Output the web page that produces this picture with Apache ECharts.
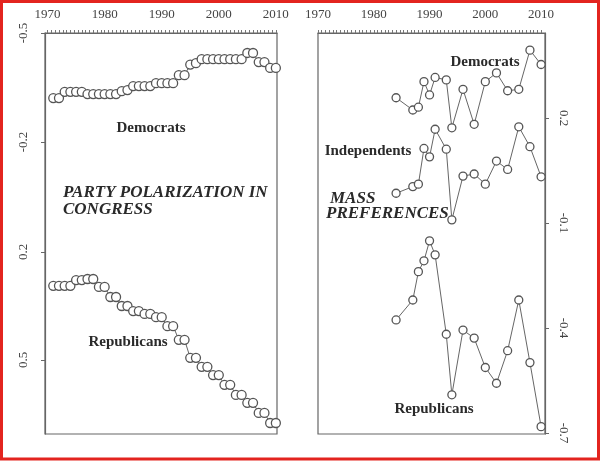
<!DOCTYPE html>
<html>
<head>
<meta charset="utf-8">
<script src="https://cdn.jsdelivr.net/npm/echarts@6/dist/echarts.min.js"></script>
<style>
html,body{margin:0;padding:0;background:#fff;}
#main{width:600px;height:461px;}
</style>
</head>
<body>
<div id="main"></div>
<script>
// congress: one value per year, 1971-2010 (each congress shows twice)
var congressYears = [];
for (var y = 1971; y <= 2010; y++) congressYears.push(y);

var congressDem = [-0.321,-0.321,-0.338,-0.338,-0.338,-0.338,-0.332,-0.332,-0.332,-0.332,
                   -0.332,-0.332,-0.340,-0.343,-0.354,-0.354,-0.354,-0.354,-0.362,-0.362,
                   -0.362,-0.362,-0.384,-0.384,-0.413,-0.417,-0.428,-0.428,-0.428,-0.428,
                   -0.428,-0.428,-0.428,-0.428,-0.445,-0.445,-0.420,-0.420,-0.404,-0.404];
var congressRep = [0.294,0.294,0.294,0.294,0.278,0.278,0.275,0.275,0.297,0.297,
                   0.325,0.325,0.350,0.350,0.364,0.364,0.372,0.372,0.381,0.381,
                   0.406,0.406,0.444,0.444,0.494,0.494,0.519,0.519,0.542,0.542,
                   0.569,0.569,0.597,0.597,0.619,0.619,0.647,0.647,0.675,0.675];

// mass preferences (survey years)
var massYears = [1984,1987,1988,1989,1990,1991,1993,1994,1996,1998,2000,2002,2004,2006,2008,2010];
var massDem = [0.258,0.223,0.231,0.304,0.266,0.316,0.309,0.172,0.282,0.182,0.304,0.329,0.278,0.282,0.394,0.353];
var massInd = [-0.015,0.004,0.011,0.113,0.089,0.168,0.111,-0.091,0.034,0.040,0.011,0.077,0.053,0.175,0.118,0.032];
var massRep = [-0.377,-0.320,-0.239,-0.208,-0.151,-0.191,-0.418,-0.591,-0.406,-0.429,-0.513,-0.558,-0.465,-0.320,-0.499,-0.682];

// tick labels
var yearTicks = [1970,1980,1990,2000,2010];
var congressDemTicks = [-0.5,-0.2];
var congressRepTicks = [0.2,0.5];
var massTicks = [0.2,-0.1,-0.4,-0.7];

function pairs(xs, ys){
  var out = [];
  for (var i = 0; i < xs.length; i++) out.push([xs[i], ys[i]]);
  return out;
}

// little rug of ticks along the top line
var rug = [];
for (var t = 1970; t <= 2010.01; t += 2/3) rug.push(Math.round(t*1000)/1000);

var serif = 'Liberation Serif';
var labelStyle = {fontFamily: serif, fontSize: 13, color: '#444'};

function topAxis(idx, min, max){
  return {
    gridIndex: idx, type: 'value', position: 'top', min: min, max: max,
    axisLine: {show: true, onZero: false, lineStyle: {color: '#666', width: 1.2}},
    axisTick: {show: true, customValues: rug, length: 3, lineStyle: {color: '#777', width: 1}},
    axisLabel: Object.assign({customValues: yearTicks, margin: 12,
      formatter: function(v){ return String(Math.round(v)); }}, labelStyle),
    splitLine: {show: false}
  };
}

function yAx(idx, pos, min, max, inv, ticks, rot, margin, showLine){
  return {
    gridIndex: idx, type: 'value', position: pos, min: min, max: max, inverse: inv,
    axisLine: {show: showLine, onZero: false, lineStyle: {color: '#666', width: 1.2}},
    axisTick: {show: true, customValues: ticks, length: 4, lineStyle: {color: '#666'}},
    axisLabel: Object.assign({customValues: ticks, rotate: rot, margin: margin,
      formatter: function(v){ return String(Math.round(v*10)/10); }}, labelStyle),
    splitLine: {show: false}
  };
}

function ser(name, xi, yi, data, size){
  return {
    name: name, type: 'line', xAxisIndex: xi, yAxisIndex: yi,
    data: data, symbol: 'circle', symbolSize: size, showSymbol: true,
    lineStyle: {color: '#666', width: 1},
    itemStyle: {color: '#fff', borderColor: '#555', borderWidth: 1.3},
    animation: false
  };
}

function txt(s, x, y, size, bold, italic, align){
  return {
    type: 'text', x: x, y: y, z: 10,
    style: {text: s, fill: '#2a2a2a', font: (italic ? 'italic ' : '') + (bold ? 'bold ' : '') + size + 'px "Liberation Serif"',
      textAlign: align || 'center', textVerticalAlign: 'middle'}
  };
}

var myChart = echarts.init(document.getElementById('main'));
var option = {
  backgroundColor: '#fff',
  grid: [
    {left: 45, top: 33, width: 232, height: 401, show: true, borderColor: '#666', borderWidth: 1.2},
    {left: 318, top: 33, width: 227, height: 401, show: true, borderColor: '#666', borderWidth: 1.2}
  ],
  xAxis: [topAxis(0, 1969.55, 2010.2), topAxis(1, 1970, 2010.7)],
  yAxis: [
    yAx(0, 'left', -0.5, 0.6037, true, congressDemTicks, 90, 15, true),
    yAx(0, 'left', -0.4083, 0.7056, true, congressRepTicks, 90, 15, false),
    yAx(1, 'right', -0.703, 0.443, false, massTicks, -90, 12, true)
  ],
  series: [
    ser('Democrats', 0, 0, pairs(congressYears, congressDem), 9),
    ser('Republicans', 0, 1, pairs(congressYears, congressRep), 9),
    ser('Democrats', 1, 2, pairs(massYears, massDem), 8),
    ser('Independents', 1, 2, pairs(massYears, massInd), 8),
    ser('Republicans', 1, 2, pairs(massYears, massRep), 8)
  ],
  graphic: [
    txt('Democrats', 151, 128, 15, true),
    txt('PARTY POLARIZATION IN', 63, 193, 17, true, true, 'left'),
    txt('CONGRESS', 63, 210, 17, true, true, 'left'),
    txt('Republicans', 128, 342, 15, true),
    txt('Democrats', 485, 62, 15, true),
    txt('Independents', 368, 151, 15, true),
    txt('MASS', 330, 199, 17, true, true, 'left'),
    txt('PREFERENCES', 326, 214, 17, true, true, 'left'),
    txt('Republicans', 434, 409, 15, true),
    {type: 'rect', z: 20, shape: {x: 1.5, y: 1.5, width: 597, height: 457.5},
      style: {fill: 'none', stroke: '#e3241f', lineWidth: 3}}
  ]
};
if (option && typeof option === "object") {
  myChart.setOption(option, true);
}
</script>
</body>
</html>
